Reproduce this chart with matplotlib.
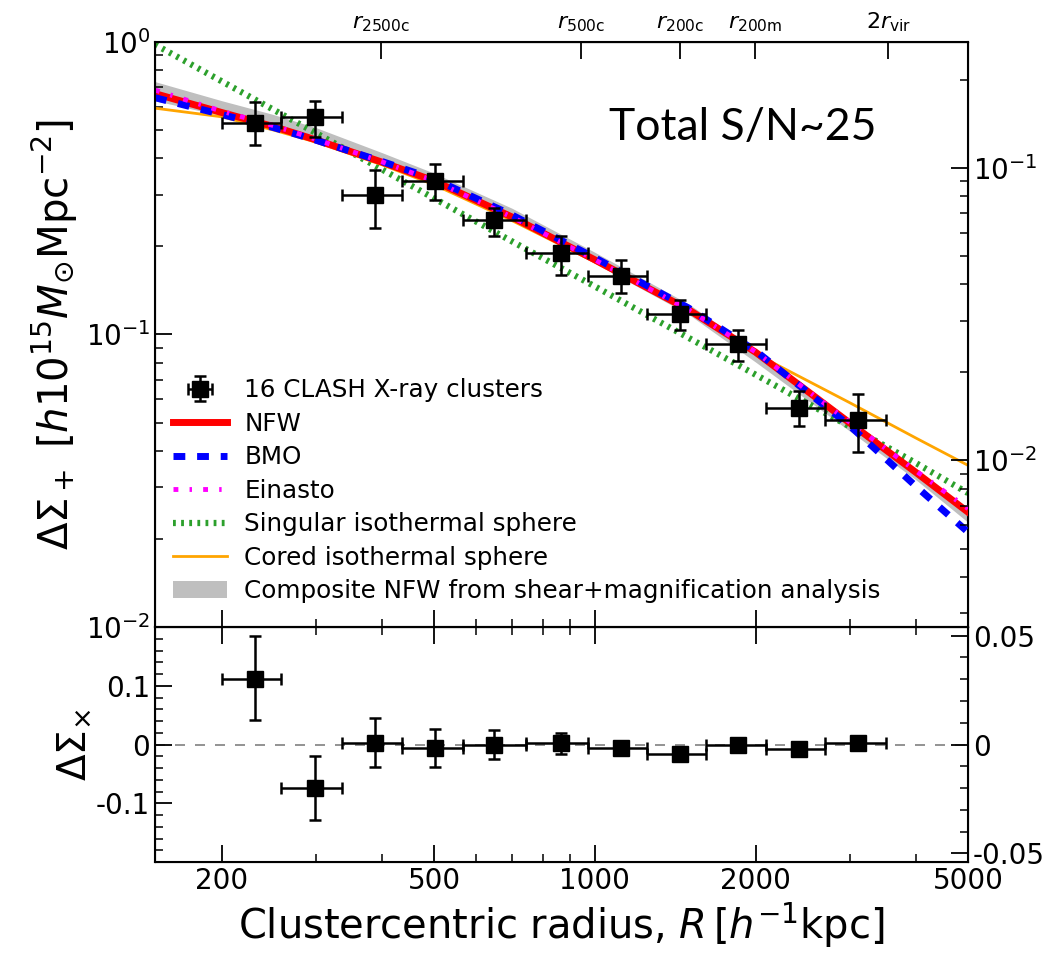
import numpy as np
import matplotlib
matplotlib.use("Agg")
import matplotlib.pyplot as plt
from matplotlib.ticker import LogLocator, NullLocator, MultipleLocator, FixedLocator, NullFormatter

# ---------------- data ----------------
R = [231, 299, 387, 501, 648, 863, 1117, 1446, 1858, 2413, 3114]
R_lo = [200, 258, 336, 436, 566, 742, 970, 1253, 1616, 2090, 2699]
R_hi = [258, 336, 436, 566, 742, 970, 1253, 1616, 2090, 2699, 3503]
dsig = [0.528, 0.553, 0.299, 0.334, 0.2455, 0.190, 0.158, 0.1175, 0.0925, 0.0562, 0.0510]
dsig_up = [0.623, 0.630, 0.366, 0.383, 0.2706, 0.2165, 0.180, 0.1317, 0.104, 0.0640, 0.0624]
dsig_dn = [0.443, 0.475, 0.231, 0.289, 0.2165, 0.160, 0.1388, 0.104, 0.081, 0.0486, 0.0397]

dsx = [0.112, -0.0734, 0.003, -0.0056, 0.0, 0.003, -0.0056, -0.017, 0.0, -0.0073, 0.003]
dsx_up = [0.185, -0.0198, 0.045, 0.027, 0.025, 0.020, 0.001, -0.011, 0.006, -0.001, 0.009]
dsx_dn = [0.041, -0.129, -0.0385, -0.0385, -0.024, -0.017, -0.012, -0.023, -0.006, -0.013, -0.003]

# model curves
Rm = [150, 200, 250, 300, 400, 500, 700, 1000, 1500, 2000, 3000, 4000, 5000]
nfw = [0.666, 0.574, 0.514, 0.463, 0.388, 0.335, 0.252, 0.180, 0.1214, 0.087, 0.0499, 0.0337, 0.0247]
bmo = [0.645, 0.565, 0.510, 0.462, 0.390, 0.340, 0.256, 0.183, 0.123, 0.088, 0.0488, 0.0302, 0.0211]
einasto = [0.685, 0.580, 0.518, 0.465, 0.389, 0.335, 0.252, 0.180, 0.1214, 0.0872, 0.0502, 0.0341, 0.0254]
sis = [0.980, 0.734, 0.587, 0.489, 0.366, 0.292, 0.208, 0.146, 0.0973, 0.0729, 0.0485, 0.0363, 0.0287]
cored = [0.594, 0.555, 0.500, 0.455, 0.380, 0.325, 0.245, 0.177, 0.120, 0.0860, 0.0585, 0.0442, 0.0357]
comp_lo = [0.630, 0.560, 0.505, 0.460, 0.385, 0.330, 0.248, 0.175, 0.117, 0.0805, 0.0468, 0.0318, 0.0228]
comp_hi = [0.732, 0.630, 0.565, 0.510, 0.418, 0.356, 0.270, 0.191, 0.127, 0.0885, 0.0510, 0.0338, 0.0248]

r_pos = [398, 941, 1446, 1997, 3543]
r_lab = [r'$r_{\rm 2500c}$', r'$r_{\rm 500c}$', r'$r_{\rm 200c}$', r'$r_{\rm 200m}$', r'$2r_{\rm vir}$']

xticks = [200, 500, 1000, 2000, 5000]
xticklabels = ['200', '500', '1000', '2000', '5000']

right_factor = 3.71

# ---------------- figure ----------------
plt.rcParams['font.family'] = ['DejaVu Sans']
plt.rcParams['mathtext.fontset'] = 'dejavusans'
fig = plt.figure(figsize=(10.62, 9.55), dpi=100)
W, H = 1062, 955
L, Rr = 155 / W, 968 / W
ax = fig.add_axes([L, 1 - 627 / H, Rr - L, (627 - 42) / H])
ax2 = fig.add_axes([L, 1 - 862 / H, Rr - L, (862 - 627) / H], sharex=ax)

xlim = (150, 4960)

# model curves
band = ax.fill_between(Rm, comp_lo, comp_hi, color='#bfbfbf', lw=0, zorder=1)
l_sis, = ax.plot(Rm, sis, color='#2ca02c', lw=4.5, dashes=(0.45, 0.85), zorder=2)
l_cor, = ax.plot(Rm, cored, color='orange', lw=2, zorder=2)
l_nfw, = ax.plot(Rm, nfw, color='red', lw=5, zorder=3)
l_bmo, = ax.plot(Rm, bmo, color='blue', lw=5, dashes=(1.7, 1.7), zorder=4)
l_ein, = ax.plot(Rm, einasto, color='magenta', lw=3.5, dashes=(1.0, 2.3, 0.5, 2.3), zorder=5)

Rarr = np.array(R)
xerr = [Rarr - np.array(R_lo), np.array(R_hi) - Rarr]
yerr = [np.array(dsig) - np.array(dsig_dn), np.array(dsig_up) - np.array(dsig)]
eb = ax.errorbar(R, dsig, xerr=xerr, yerr=yerr, fmt='s', color='black', ms=12,
                 elinewidth=1.8, capsize=4, capthick=1.8, zorder=10)

ax.set_xscale('log')
ax.set_yscale('log')
ax.set_xlim(*xlim)
ax.set_ylim(0.01, 1)

# bottom panel
ax2.axhline(0, color='gray', lw=1.2, dashes=(6, 6), zorder=1)
yerr2 = [np.array(dsx) - np.array(dsx_dn), np.array(dsx_up) - np.array(dsx)]
ax2.errorbar(R, dsx, xerr=xerr, yerr=yerr2, fmt='s', color='black', ms=12,
             elinewidth=1.8, capsize=4, capthick=1.8, zorder=10)
ax2.set_ylim(-0.2, 0.2)
ax2.set_xlim(*xlim)
ax2.set_xscale('log')

# ticks
for a in (ax, ax2):
    a.xaxis.set_major_locator(FixedLocator(xticks))
    a.xaxis.set_minor_locator(LogLocator(base=10, subs=np.arange(2, 10)))
    a.xaxis.set_minor_formatter(NullFormatter())
    a.tick_params(which='major', direction='in', length=12, width=1.3, labelsize=20)
    a.tick_params(which='minor', direction='in', length=6, width=1.1)
    for s in a.spines.values():
        s.set_linewidth(1.5)
ax2.set_xticks(xticks)
ax2.set_xticklabels(xticklabels)
ax.tick_params(axis='x', which='both', top=False, labelbottom=False)
ax2.tick_params(axis='x', which='both', top=True)
ax.tick_params(axis='y', which='both', right=False)
ax2.tick_params(axis='y', which='both', right=False)
ax2.yaxis.set_major_locator(FixedLocator([-0.1, 0, 0.1]))
ax2.yaxis.set_minor_locator(MultipleLocator(0.02))
ax2.set_yticklabels(['-0.1', '0', '0.1'])

# right axes
axr = ax.twinx()
axr.set_yscale('log')
axr.set_ylim(0.01 / right_factor, 1 / right_factor)
axr.yaxis.set_major_locator(FixedLocator([0.01, 0.1]))
axr.yaxis.set_minor_locator(LogLocator(base=10, subs=np.arange(2, 10)))
axr.yaxis.set_minor_formatter(NullFormatter())
axr.tick_params(which='major', direction='in', length=12, width=1.3, labelsize=20)
axr.tick_params(which='minor', direction='in', length=6, width=1.1)

axr2 = ax2.twinx()
axr2.set_ylim(-0.2 / right_factor, 0.2 / right_factor)
axr2.yaxis.set_major_locator(FixedLocator([-0.05, 0, 0.05]))
axr2.yaxis.set_minor_locator(MultipleLocator(0.01))
axr2.set_yticklabels(['-0.05', '0', '0.05'])
axr2.tick_params(which='major', direction='in', length=12, width=1.3, labelsize=20)
axr2.tick_params(which='minor', direction='in', length=6, width=1.1)

# top r labels
sec = ax.secondary_xaxis('top')
sec.xaxis.set_major_locator(FixedLocator(r_pos))
sec.xaxis.set_minor_locator(NullLocator())
sec.set_xticklabels(r_lab)
sec.tick_params(which='major', direction='in', length=12, width=1.3, labelsize=16, pad=6)

# labels
ax.set_ylabel(r'$\Delta\Sigma_+\ [h10^{15}M_{\odot}\mathrm{Mpc}^{-2}]$', fontsize=29, labelpad=4)
ax2.set_ylabel(r'$\Delta\Sigma_{\times}$', fontsize=28, labelpad=2)
ax2.set_xlabel(r'Clustercentric radius, $R\,[h^{-1}\mathrm{kpc}]$', fontsize=28.8, labelpad=4)

ax.text(0.723, 0.853, 'Total S/N~25', transform=ax.transAxes, fontsize=32,
        family=['Lato', 'DejaVu Sans'], ha='center', va='center')

handles = [eb, l_nfw, l_bmo, l_ein, l_sis, l_cor, band]
labels = ['16 CLASH X-ray clusters', 'NFW', 'BMO', 'Einasto', 'Singular isothermal sphere',
          'Cored isothermal sphere', 'Composite NFW from shear+magnification analysis']
leg = ax.legend(handles, labels, loc='lower left', bbox_to_anchor=(0.01, 0.024),
                frameon=False, fontsize=17.7, handlelength=2.2, handletextpad=0.7,
                labelspacing=0.385, borderaxespad=0)

fig.savefig('out.png', dpi=100)
